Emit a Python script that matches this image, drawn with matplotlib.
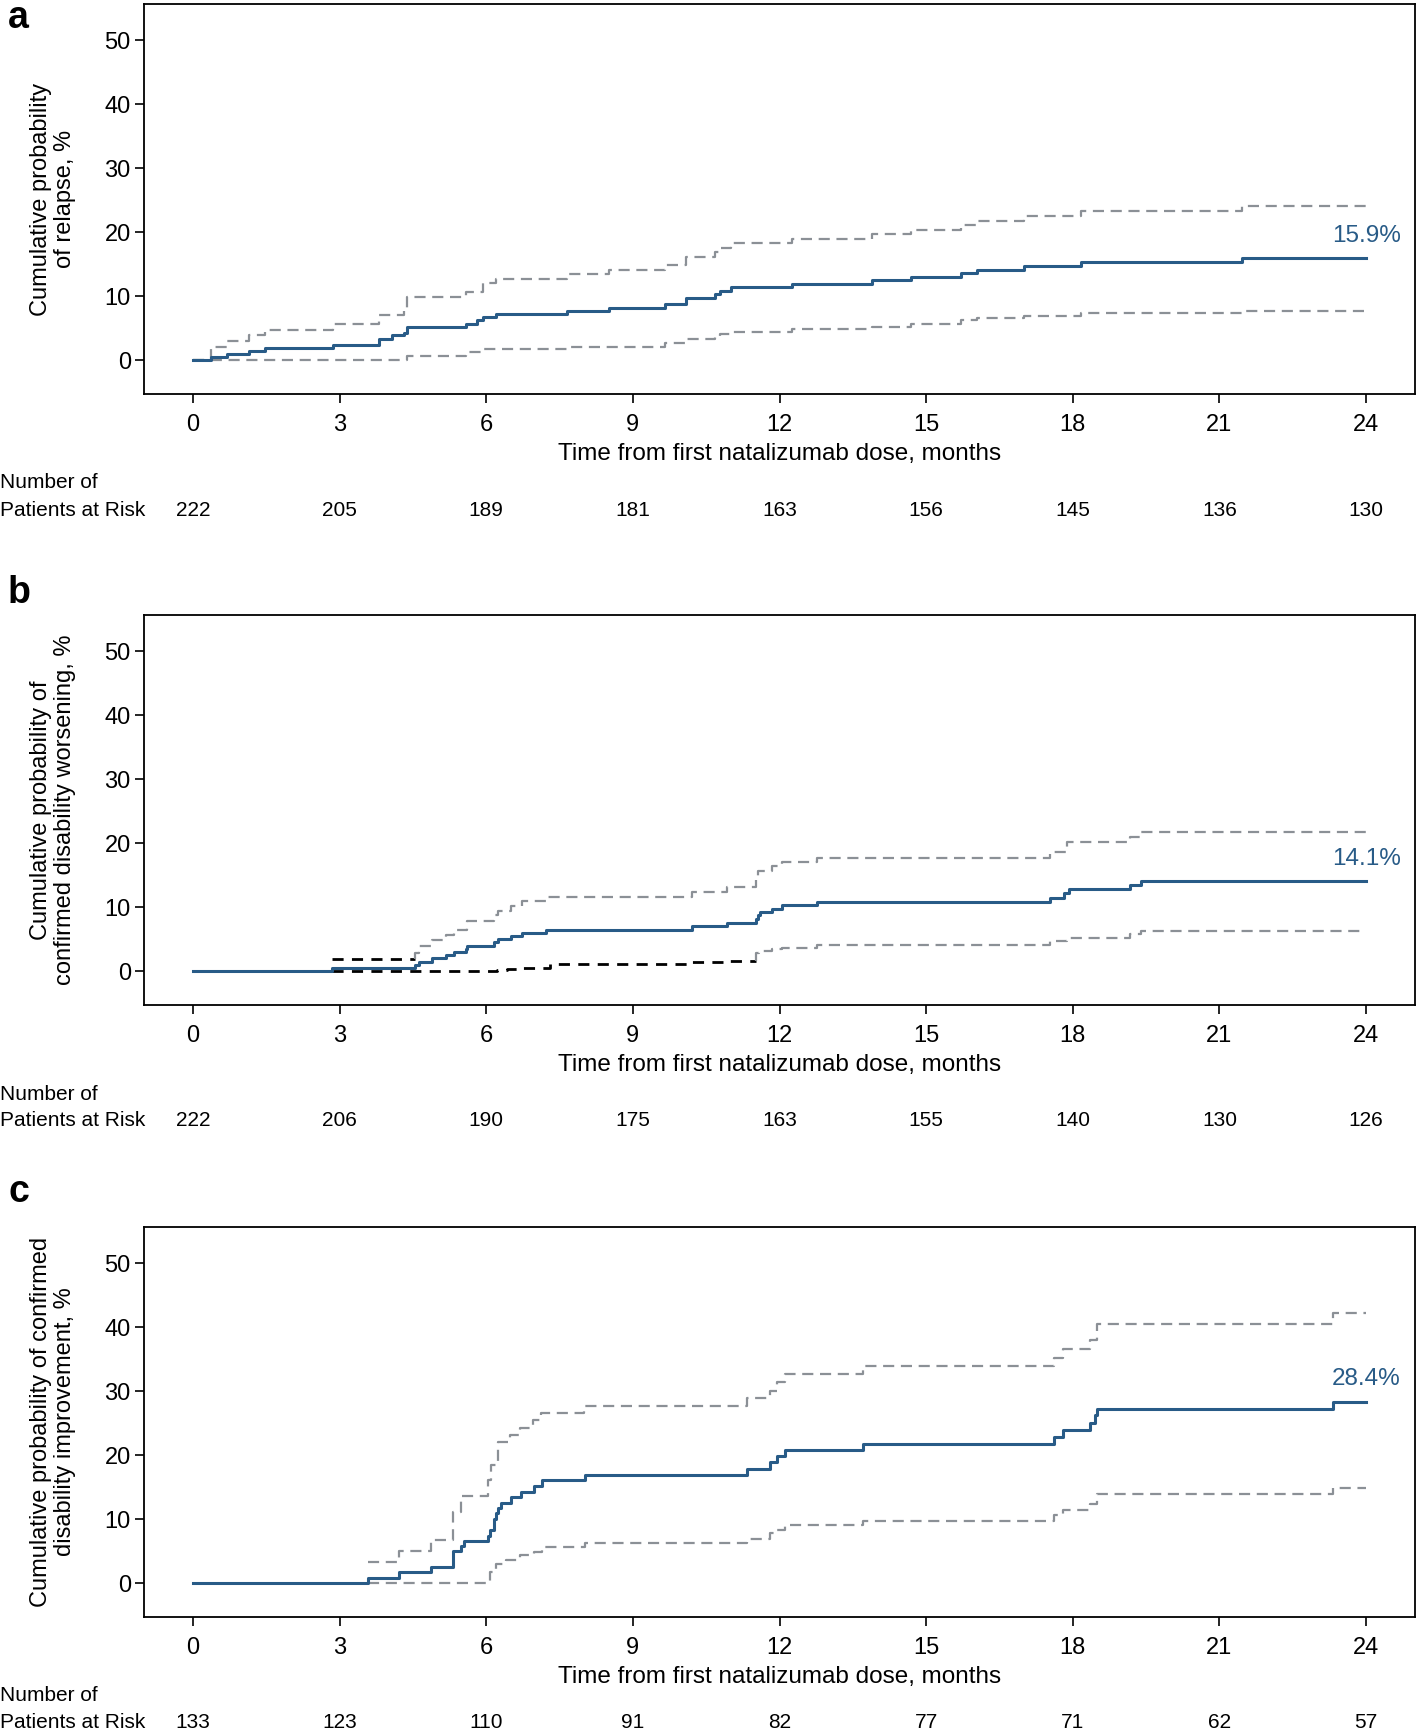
import numpy as np
import matplotlib.pyplot as plt

plt.rcParams['font.family'] = ['Liberation Sans', 'DejaVu Sans']

# ---- data (months, cumulative %) ----
# a: relapse
a_t = [0, 0.38, 0.69, 1.14, 1.48, 2.86, 3.80, 4.07, 4.32, 4.39, 5.58, 5.81, 5.93, 6.20, 7.66,
       8.51, 9.66, 10.08, 10.68, 10.79, 11.0, 12.25, 13.9, 14.68, 15.72, 16.04, 17.0, 18.16, 21.46]
a_est = [0, 0.55, 1.0, 1.4, 1.95, 2.4, 3.3, 3.85, 4.3, 5.25, 5.7, 6.2, 6.75, 7.2, 7.75,
         8.2, 8.75, 9.75, 10.3, 10.8, 11.4, 11.85, 12.5, 13.05, 13.6, 14.1, 14.65, 15.4, 15.9]
a_up_t = [0, 0.38, 0.69, 1.14, 1.48, 2.86, 3.80, 4.32, 4.39, 5.58, 5.93, 6.20, 7.66, 8.51,
          9.66, 10.08, 10.68, 10.79, 11.0, 12.25, 13.9, 14.68, 15.72, 16.04, 17.0, 18.16, 21.46]
a_up = [0, 2.0, 2.95, 3.9, 4.75, 5.6, 7.1, 7.95, 9.9, 10.7, 12.1, 12.7, 13.4, 14.1,
        14.85, 16.1, 16.9, 17.55, 18.35, 18.95, 19.7, 20.35, 21.1, 21.75, 22.6, 23.25, 24.1]
a_lo_t = [0, 4.39, 5.58, 5.93, 7.66, 9.66, 10.08, 10.68, 10.79, 11.0, 12.25, 13.9, 14.68,
          15.72, 16.04, 17.0, 18.16, 21.46]
a_lo = [0, 0.57, 1.2, 1.7, 2.1, 2.65, 3.3, 3.7, 4.1, 4.45, 4.85, 5.2, 5.6,
        6.3, 6.6, 6.9, 7.3, 7.75]
a_risk = [222, 205, 189, 181, 163, 156, 145, 136, 130]

# b: confirmed disability worsening
b_t = [0, 2.85, 4.55, 4.62, 4.90, 5.17, 5.34, 5.58, 5.61, 6.15, 6.24, 6.51, 6.73, 7.22, 10.22,
       10.92, 11.52, 11.56, 11.61, 11.84, 12.06, 12.76, 17.54, 17.83, 17.92, 19.16, 19.39]
b_est = [0, 0.5, 1.0, 1.5, 2.0, 2.5, 3.0, 3.5, 4.0, 4.5, 5.0, 5.45, 5.95, 6.45, 7.0,
         7.55, 8.1, 8.7, 9.2, 9.75, 10.3, 10.85, 11.5, 12.2, 12.85, 13.4, 14.1]
b_up_t = [2.85, 4.55, 4.62, 4.90, 5.17, 5.34, 5.60, 6.15, 6.24, 6.51, 6.73, 7.22, 10.22,
          10.92, 11.52, 11.56, 11.84, 12.06, 12.76, 17.54, 17.88, 19.16, 19.39]
b_up = [1.9, 2.9, 4.0, 4.8, 5.6, 6.4, 7.9, 8.7, 9.4, 10.2, 10.9, 11.6, 12.3,
        13.1, 14.6, 15.6, 16.4, 17.0, 17.7, 18.7, 20.2, 21.0, 21.8]
b_lo_t = [2.85, 6.22, 6.42, 6.64, 7.30, 10.22, 10.90, 11.52, 11.58, 11.84, 12.06, 12.76,
          17.54, 17.88, 19.16, 19.39]
b_lo = [0, 0.2, 0.35, 0.55, 1.05, 1.35, 1.6, 2.85, 3.1, 3.4, 3.65, 4.15,
        4.7, 5.25, 5.8, 6.25]
b_risk = [222, 206, 190, 175, 163, 155, 140, 130, 126]

# c: confirmed disability improvement
c_t = [0, 3.59, 4.21, 4.87, 5.33, 5.49, 5.54, 6.04, 6.07, 6.15, 6.20, 6.24, 6.31, 6.51, 6.71,
       6.98, 7.15, 8.03, 11.33, 11.81, 11.95, 12.11, 13.70, 17.61, 17.80, 18.36, 18.46, 18.50, 23.32]
c_est = [0, 0.85, 1.7, 2.5, 5.0, 5.8, 6.6, 7.4, 8.3, 10.0, 10.9, 11.7, 12.5, 13.4, 14.25,
         15.15, 16.1, 16.9, 17.9, 18.9, 19.85, 20.8, 21.8, 22.9, 24.0, 25.1, 26.3, 27.3, 28.4]
c_up_t = [3.59, 4.21, 4.87, 5.33, 5.49, 6.04, 6.10, 6.24, 6.49, 6.70, 6.96, 7.13, 8.01,
          11.33, 11.81, 11.95, 12.11, 13.70, 17.61, 17.80, 18.36, 18.50, 23.32]
c_up = [3.3, 5.1, 6.75, 11.1, 13.55, 16.2, 18.5, 22.0, 23.2, 24.3, 25.5, 26.6, 27.7,
        28.9, 30.1, 31.4, 32.7, 34.0, 35.2, 36.55, 38.0, 40.5, 42.2]
c_lo_t = [3.59, 6.08, 6.20, 6.40, 6.70, 6.98, 7.14, 8.03, 11.33, 11.81, 11.95, 12.11, 13.70,
          17.61, 17.80, 18.36, 18.50, 23.32]
c_lo = [0, 1.7, 3.0, 3.6, 4.4, 4.9, 5.6, 6.2, 6.85, 7.8, 8.3, 9.05, 9.75,
        10.6, 11.4, 12.4, 13.9, 14.85]
c_risk = [133, 123, 110, 91, 82, 77, 71, 62, 57]

months = [0, 3, 6, 9, 12, 15, 18, 21, 24]

BLUE = '#285b87'
GRAY = '#8b9096'
T_END = 24
W, H = 1417, 1735

fig = plt.figure(figsize=(W / 100, H / 100), dpi=100)


def draw_ci(ax, t, v, split=None):
    t = np.append(t, T_END)
    v = np.append(v, v[-1])
    kw = dict(where='post', lw=1.6, dashes=(5, 3))
    if split is None:
        ax.step(t, v, color=GRAY, **kw)
        return
    k = np.searchsorted(t, split)
    ax.step(np.append(t[:k], split), np.append(v[:k], v[k - 1]), color='black',
            where='post', lw=2.0, dashes=(4, 3))
    ax.step(np.insert(t[k:], 0, split), np.insert(v[k:], 0, v[k - 1]), color=GRAY, **kw)


panels = [
    ('a', 'Cumulative probability\nof relapse, %', a_t, a_est, a_up_t, a_up, a_lo_t, a_lo,
     a_risk, None, None, 28),
    ('b', 'Cumulative probability of\nconfirmed disability worsening, %', b_t, b_est,
     b_up_t, b_up, b_lo_t, b_lo, b_risk, 4.55, 11.52, 603),
    ('c', 'Cumulative probability of confirmed\ndisability improvement, %', c_t, c_est,
     c_up_t, c_up, c_lo_t, c_lo, c_risk, None, None, 1202),
]
tops = [4, 615, 1227]
ax_h = 390
left, right = 144, 1415

for (letter, ylab, t, est, ut, up, lt, lo, risk, up_split, lo_split, letter_y), top in zip(panels, tops):
    ax = fig.add_axes([left / W, 1 - (top + ax_h) / H, (right - left) / W, ax_h / H])
    draw_ci(ax, ut, up, up_split)
    draw_ci(ax, lt, lo, lo_split)
    ax.step(t + [T_END], est + [est[-1]], where='post', color=BLUE, lw=2.2)
    ax.text(T_END, est[-1] + 3.5, f'{est[-1]:.1f}%', color=BLUE, fontsize=17.5,
            ha='center', va='center')

    ax.set_xlim(-1, 25)
    ax.set_ylim(-5.3, 55.7)
    ax.set_xticks(months)
    ax.set_yticks(range(0, 51, 10))
    ax.tick_params(labelsize=17, length=6.5, width=1.2)
    ax.tick_params(axis='x', pad=8)
    ax.tick_params(axis='y', pad=3)
    for s in ax.spines.values():
        s.set_linewidth(1.3)
    ax.set_xlabel('Time from first natalizumab dose, months', fontsize=17.5, labelpad=5)

    yc = 1 - (top + ax_h / 2) / H
    fig.text(53 / W, yc, ylab, rotation=90, ha='center', va='center',
             fontsize=17, multialignment='center', linespacing=1.15)
    fig.text(8 / W, 1 - letter_y / H, letter, fontsize=27, fontweight='bold', va='baseline')

    bottom = top + ax_h
    row = min(bottom + 116, H - 13)
    fig.text(0, 1 - (row - 27) / H, 'Number of', fontsize=15, va='center')
    fig.text(0, 1 - row / H, 'Patients at Risk', fontsize=15, va='center')
    for m, n in zip(months, risk):
        x_px = ax.transData.transform((m, 0))[0]
        fig.text(x_px / W, 1 - row / H, str(n), fontsize=15,
                 ha='center', va='center')

fig.savefig('out.png', dpi=100)
